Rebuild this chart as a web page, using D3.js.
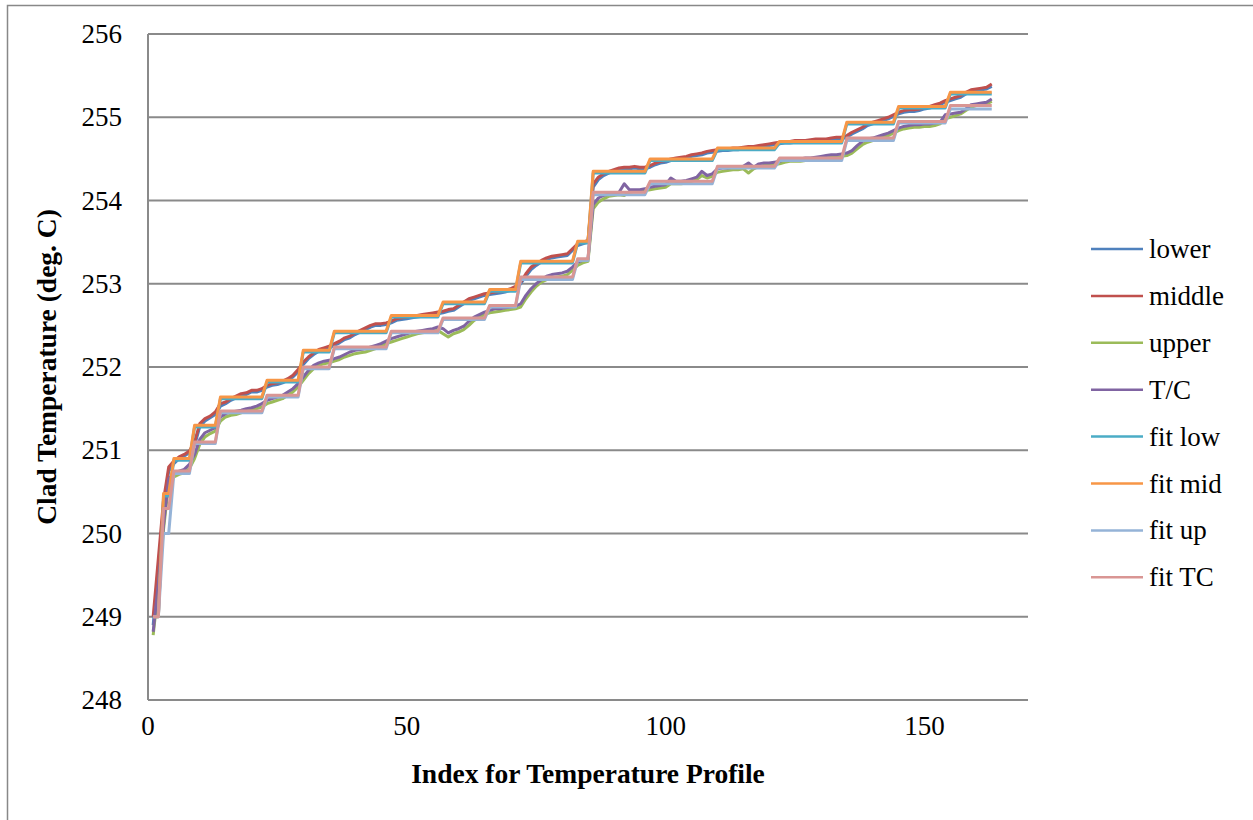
<!DOCTYPE html>
<html>
<head>
<meta charset="utf-8">
<script src="https://cdn.jsdelivr.net/npm/d3@7"></script>
<style>
  body { margin: 0; background: #fff; }
  svg { display: block; }
  text { font-family: "Liberation Serif", "Times New Roman", serif; fill: #000; }
</style>
</head>
<body>
<div id="chart"></div>
<script>
// Series, index 1..163
const lower = [
  248.9, 249.6, 250.3, 250.75, 250.84, 250.9, 250.93, 250.97, 251.06, 251.28,
  251.35, 251.39, 251.43, 251.53, 251.56, 251.6, 251.63, 251.66, 251.67, 251.7,
  251.7, 251.72, 251.76, 251.78, 251.79, 251.81, 251.84, 251.88, 251.94, 252.03,
  252.1, 252.15, 252.19, 252.21, 252.23, 252.26, 252.29, 252.33, 252.35, 252.39,
  252.42, 252.45, 252.48, 252.5, 252.5, 252.51, 252.53, 252.56, 252.57, 252.58,
  252.59, 252.6, 252.61, 252.62, 252.63, 252.64, 252.65, 252.67, 252.68, 252.72,
  252.76, 252.8, 252.82, 252.84, 252.86, 252.87, 252.88, 252.89, 252.9, 252.92,
  252.95, 253.0, 253.09, 253.17, 253.22, 253.26, 253.29, 253.31, 253.32, 253.33,
  253.34, 253.4, 253.46, 253.48, 253.5, 254.16, 254.25, 254.3, 254.33, 254.35,
  254.37, 254.38, 254.38, 254.39, 254.38, 254.38, 254.4, 254.43, 254.45, 254.46,
  254.48, 254.49, 254.5, 254.51, 254.53, 254.54, 254.55, 254.57, 254.58, 254.59,
  254.6, 254.6, 254.61, 254.61, 254.62, 254.63, 254.63, 254.64, 254.65, 254.66,
  254.67, 254.68, 254.69, 254.69, 254.7, 254.7, 254.7, 254.71, 254.72, 254.72,
  254.72, 254.73, 254.74, 254.74, 254.76, 254.8, 254.83, 254.86, 254.9, 254.92,
  254.94, 254.96, 254.98, 255.01, 255.04, 255.06, 255.07, 255.07, 255.08, 255.1,
  255.11, 255.13, 255.15, 255.18, 255.2, 255.22, 255.24, 255.28, 255.31, 255.32,
  255.33, 255.34, 255.37
];
const middle = [
  249.0, 249.7, 250.4, 250.8, 250.87, 250.92, 250.95, 250.99, 251.1, 251.32,
  251.38, 251.41, 251.46, 251.56, 251.58, 251.62, 251.65, 251.68, 251.69, 251.72,
  251.72, 251.74, 251.78, 251.8, 251.81, 251.83, 251.86, 251.9, 251.97, 252.06,
  252.12, 252.17, 252.21, 252.23, 252.25, 252.28, 252.31, 252.35, 252.37, 252.41,
  252.44, 252.47, 252.5, 252.52, 252.52, 252.53, 252.55, 252.58, 252.59, 252.6,
  252.61, 252.62, 252.63, 252.64, 252.65, 252.66, 252.67, 252.69, 252.7, 252.74,
  252.78, 252.82, 252.84, 252.86, 252.88, 252.89, 252.9, 252.91, 252.92, 252.94,
  252.97, 253.02, 253.12, 253.2, 253.24, 253.28, 253.31, 253.33, 253.34, 253.35,
  253.36, 253.42, 253.48, 253.5, 253.52, 254.2, 254.28, 254.32, 254.35, 254.37,
  254.39, 254.4, 254.4, 254.41, 254.4, 254.4, 254.42, 254.45, 254.47, 254.48,
  254.5, 254.51, 254.52, 254.53, 254.55, 254.56, 254.57, 254.59, 254.6, 254.61,
  254.62, 254.62, 254.63, 254.63, 254.64, 254.65, 254.65, 254.66, 254.67, 254.68,
  254.69, 254.7, 254.71, 254.71, 254.72, 254.72, 254.72, 254.73, 254.74, 254.74,
  254.74, 254.75, 254.76, 254.76, 254.78, 254.82, 254.85, 254.88, 254.92, 254.94,
  254.96, 254.98, 255.0, 255.03, 255.06, 255.08, 255.09, 255.09, 255.1, 255.12,
  255.13, 255.15, 255.17, 255.2, 255.22, 255.24, 255.26, 255.3, 255.33, 255.34,
  255.35, 255.36, 255.4
];
const upper = [
  248.78, 249.35, 250.05, 250.6, 250.68, 250.71, 250.73, 250.78, 250.9, 251.07,
  251.16, 251.2, 251.23, 251.35, 251.4, 251.42, 251.43, 251.45, 251.47, 251.48,
  251.5, 251.52, 251.56, 251.58, 251.6, 251.62, 251.66, 251.7, 251.76, 251.84,
  251.92, 251.98, 252.02, 252.04, 252.05, 252.07, 252.09, 252.12, 252.14, 252.16,
  252.17, 252.18, 252.2, 252.22, 252.25, 252.28, 252.3, 252.32, 252.34, 252.36,
  252.38, 252.4, 252.41, 252.42, 252.43, 252.44, 252.4, 252.36, 252.4, 252.42,
  252.45, 252.5, 252.56, 252.6, 252.63, 252.65, 252.66, 252.67, 252.68, 252.69,
  252.7, 252.72, 252.82, 252.9, 252.97, 253.02, 253.05, 253.07, 253.08, 253.09,
  253.11, 253.16, 253.22, 253.25, 253.27, 253.9, 253.98, 254.02, 254.05, 254.06,
  254.07, 254.06, 254.1, 254.11, 254.11, 254.12, 254.13, 254.14, 254.15, 254.16,
  254.2, 254.2, 254.2, 254.21, 254.23, 254.25, 254.3, 254.27, 254.29, 254.34,
  254.35, 254.36, 254.37, 254.37, 254.38, 254.33, 254.38, 254.41, 254.42, 254.42,
  254.43, 254.44, 254.46, 254.47, 254.47, 254.47, 254.48, 254.48, 254.49, 254.5,
  254.51, 254.52, 254.52, 254.53, 254.54, 254.57, 254.62, 254.67, 254.7, 254.72,
  254.74, 254.76, 254.78, 254.81, 254.84, 254.86, 254.87, 254.88, 254.88, 254.89,
  254.89, 254.9, 254.92, 254.98, 255.0, 255.02, 255.04, 255.08, 255.12, 255.14,
  255.15, 255.16, 255.19
];
const tc = [
  248.82, 249.4, 250.1, 250.66, 250.72, 250.75, 250.77, 250.83, 250.95, 251.13,
  251.21, 251.24, 251.27, 251.4, 251.44, 251.46, 251.47, 251.48, 251.5, 251.51,
  251.53, 251.56, 251.6, 251.62, 251.64, 251.66, 251.7, 251.74, 251.8, 251.88,
  251.96, 252.02, 252.05, 252.07, 252.08, 252.1, 252.12, 252.15, 252.18, 252.2,
  252.21, 252.22, 252.24, 252.26, 252.28, 252.31, 252.34, 252.36, 252.38, 252.4,
  252.42, 252.43, 252.44, 252.45, 252.46, 252.48, 252.46, 252.41, 252.44, 252.46,
  252.49, 252.55, 252.6, 252.63, 252.66, 252.68, 252.7, 252.7, 252.71, 252.72,
  252.73, 252.76, 252.86, 252.94, 253.0, 253.05, 253.09, 253.11, 253.12, 253.13,
  253.15, 253.2, 253.26, 253.28, 253.3, 253.95, 254.03, 254.06, 254.08, 254.09,
  254.1, 254.2, 254.13, 254.13, 254.13, 254.14, 254.16, 254.17, 254.18, 254.19,
  254.27, 254.23, 254.23, 254.24, 254.26, 254.28, 254.35, 254.3, 254.32, 254.38,
  254.39, 254.39, 254.4, 254.4, 254.41, 254.45, 254.4, 254.44, 254.45, 254.45,
  254.46, 254.47, 254.49, 254.5, 254.5, 254.5, 254.51, 254.51, 254.52, 254.53,
  254.54, 254.55, 254.55, 254.56, 254.57, 254.6, 254.66, 254.71, 254.74, 254.75,
  254.77, 254.79, 254.81, 254.84, 254.87, 254.89, 254.9, 254.91, 254.91, 254.92,
  254.92, 254.93, 254.94, 255.03, 255.04, 255.05, 255.06, 255.1, 255.15, 255.16,
  255.17, 255.18, 255.22
];
const fitLow = [
  249.0, 249.0,
  250.45, 250.45,
  250.88, 250.88, 250.88, 250.88,
  251.28, 251.28, 251.28, 251.28, 251.28,
  251.62, 251.62, 251.62, 251.62, 251.62, 251.62, 251.62, 251.62, 251.62,
  251.82, 251.82, 251.82, 251.82, 251.82, 251.82, 251.82,
  252.18, 252.18, 252.18, 252.18, 252.18, 252.18,
  252.41, 252.41, 252.41, 252.41, 252.41, 252.41, 252.41, 252.41, 252.41, 252.41, 252.41,
  252.6, 252.6, 252.6, 252.6, 252.6, 252.6, 252.6, 252.6, 252.6, 252.6,
  252.76, 252.76, 252.76, 252.76, 252.76, 252.76, 252.76, 252.76, 252.76,
  252.91, 252.91, 252.91, 252.91, 252.91, 252.91,
  253.25, 253.25, 253.25, 253.25, 253.25, 253.25, 253.25, 253.25, 253.25, 253.25, 253.25,
  253.49, 253.49, 253.49,
  254.33, 254.33, 254.33, 254.33, 254.33, 254.33, 254.33, 254.33, 254.33, 254.33, 254.33,
  254.48, 254.48, 254.48, 254.48, 254.48, 254.48, 254.48, 254.48, 254.48, 254.48, 254.48, 254.48, 254.48,
  254.61, 254.61, 254.61, 254.61, 254.61, 254.61, 254.61, 254.61, 254.61, 254.61, 254.61, 254.61,
  254.69, 254.69, 254.69, 254.69, 254.69, 254.69, 254.69, 254.69, 254.69, 254.69, 254.69, 254.69, 254.69,
  254.92, 254.92, 254.92, 254.92, 254.92, 254.92, 254.92, 254.92, 254.92, 254.92,
  255.11, 255.11, 255.11, 255.11, 255.11, 255.11, 255.11, 255.11, 255.11, 255.11,
  255.28, 255.28, 255.28, 255.28, 255.28, 255.28, 255.28, 255.28, 255.28
];
const fitMid = [
  249.0, 249.0,
  250.48, 250.48,
  250.9, 250.9, 250.9, 250.9,
  251.3, 251.3, 251.3, 251.3, 251.3,
  251.64, 251.64, 251.64, 251.64, 251.64, 251.64, 251.64, 251.64, 251.64,
  251.84, 251.84, 251.84, 251.84, 251.84, 251.84, 251.84,
  252.2, 252.2, 252.2, 252.2, 252.2, 252.2,
  252.43, 252.43, 252.43, 252.43, 252.43, 252.43, 252.43, 252.43, 252.43, 252.43, 252.43,
  252.62, 252.62, 252.62, 252.62, 252.62, 252.62, 252.62, 252.62, 252.62, 252.62,
  252.78, 252.78, 252.78, 252.78, 252.78, 252.78, 252.78, 252.78, 252.78,
  252.93, 252.93, 252.93, 252.93, 252.93, 252.93,
  253.27, 253.27, 253.27, 253.27, 253.27, 253.27, 253.27, 253.27, 253.27, 253.27, 253.27,
  253.51, 253.51, 253.51,
  254.35, 254.35, 254.35, 254.35, 254.35, 254.35, 254.35, 254.35, 254.35, 254.35, 254.35,
  254.5, 254.5, 254.5, 254.5, 254.5, 254.5, 254.5, 254.5, 254.5, 254.5, 254.5, 254.5, 254.5,
  254.63, 254.63, 254.63, 254.63, 254.63, 254.63, 254.63, 254.63, 254.63, 254.63, 254.63, 254.63,
  254.71, 254.71, 254.71, 254.71, 254.71, 254.71, 254.71, 254.71, 254.71, 254.71, 254.71, 254.71, 254.71,
  254.94, 254.94, 254.94, 254.94, 254.94, 254.94, 254.94, 254.94, 254.94, 254.94,
  255.13, 255.13, 255.13, 255.13, 255.13, 255.13, 255.13, 255.13, 255.13, 255.13,
  255.3, 255.3, 255.3, 255.3, 255.3, 255.3, 255.3, 255.3, 255.3
];
const fitUp = [
  249.0, 249.0,
  250.0, 250.0,
  250.72, 250.72, 250.72, 250.72,
  251.08, 251.08, 251.08, 251.08, 251.08,
  251.45, 251.45, 251.45, 251.45, 251.45, 251.45, 251.45, 251.45, 251.45,
  251.64, 251.64, 251.64, 251.64, 251.64, 251.64, 251.64,
  251.98, 251.98, 251.98, 251.98, 251.98, 251.98,
  252.22, 252.22, 252.22, 252.22, 252.22, 252.22, 252.22, 252.22, 252.22, 252.22, 252.22,
  252.41, 252.41, 252.41, 252.41, 252.41, 252.41, 252.41, 252.41, 252.41, 252.41,
  252.57, 252.57, 252.57, 252.57, 252.57, 252.57, 252.57, 252.57, 252.57,
  252.72, 252.72, 252.72, 252.72, 252.72, 252.72,
  253.05, 253.05, 253.05, 253.05, 253.05, 253.05, 253.05, 253.05, 253.05, 253.05, 253.05,
  253.28, 253.28, 253.28,
  254.07, 254.07, 254.07, 254.07, 254.07, 254.07, 254.07, 254.07, 254.07, 254.07, 254.07,
  254.2, 254.2, 254.2, 254.2, 254.2, 254.2, 254.2, 254.2, 254.2, 254.2, 254.2, 254.2, 254.2,
  254.39, 254.39, 254.39, 254.39, 254.39, 254.39, 254.39, 254.39, 254.39, 254.39, 254.39, 254.39,
  254.48, 254.48, 254.48, 254.48, 254.48, 254.48, 254.48, 254.48, 254.48, 254.48, 254.48, 254.48, 254.48,
  254.72, 254.72, 254.72, 254.72, 254.72, 254.72, 254.72, 254.72, 254.72, 254.72,
  254.93, 254.93, 254.93, 254.93, 254.93, 254.93, 254.93, 254.93, 254.93, 254.93,
  255.1, 255.1, 255.1, 255.1, 255.1, 255.1, 255.1, 255.1, 255.1
];
const fitTC = [
  249.0, 249.0,
  250.3, 250.3,
  250.75, 250.75, 250.75, 250.75,
  251.1, 251.1, 251.1, 251.1, 251.1,
  251.47, 251.47, 251.47, 251.47, 251.47, 251.47, 251.47, 251.47, 251.47,
  251.66, 251.66, 251.66, 251.66, 251.66, 251.66, 251.66,
  252.0, 252.0, 252.0, 252.0, 252.0, 252.0,
  252.24, 252.24, 252.24, 252.24, 252.24, 252.24, 252.24, 252.24, 252.24, 252.24, 252.24,
  252.43, 252.43, 252.43, 252.43, 252.43, 252.43, 252.43, 252.43, 252.43, 252.43,
  252.59, 252.59, 252.59, 252.59, 252.59, 252.59, 252.59, 252.59, 252.59,
  252.74, 252.74, 252.74, 252.74, 252.74, 252.74,
  253.08, 253.08, 253.08, 253.08, 253.08, 253.08, 253.08, 253.08, 253.08, 253.08, 253.08,
  253.3, 253.3, 253.3,
  254.1, 254.1, 254.1, 254.1, 254.1, 254.1, 254.1, 254.1, 254.1, 254.1, 254.1,
  254.23, 254.23, 254.23, 254.23, 254.23, 254.23, 254.23, 254.23, 254.23, 254.23, 254.23, 254.23, 254.23,
  254.41, 254.41, 254.41, 254.41, 254.41, 254.41, 254.41, 254.41, 254.41, 254.41, 254.41, 254.41,
  254.51, 254.51, 254.51, 254.51, 254.51, 254.51, 254.51, 254.51, 254.51, 254.51, 254.51, 254.51, 254.51,
  254.75, 254.75, 254.75, 254.75, 254.75, 254.75, 254.75, 254.75, 254.75, 254.75,
  254.95, 254.95, 254.95, 254.95, 254.95, 254.95, 254.95, 254.95, 254.95, 254.95,
  255.14, 255.14, 255.14, 255.14, 255.14, 255.14, 255.14, 255.14, 255.14
];

const seriesNames = ["lower", "middle", "upper", "T/C", "fit low", "fit mid", "fit up", "fit TC"];
const seriesValues = [lower, middle, upper, tc, fitLow, fitMid, fitUp, fitTC];
const seriesColors = ["#4F81BD", "#C0504D", "#9BBB59", "#8064A2", "#4BACC6", "#F79646", "#95B3D7", "#D99694"];
const yTicks = [248, 249, 250, 251, 252, 253, 254, 255, 256];
const xTicks = [0, 50, 100, 150];

const width = 1253, height = 820;
const plot = { left: 148, right: 1028, top: 34, bottom: 700 };

const svg = d3.select("#chart").append("svg")
  .attr("width", width)
  .attr("height", height);

// outer chart border
svg.append("rect")
  .attr("x", 7.5).attr("y", 5.5)
  .attr("width", width + 10).attr("height", height + 10)
  .attr("fill", "none")
  .attr("stroke", "#888")
  .attr("stroke-width", 1.5);

const x = d3.scaleLinear().domain([0, 170]).range([plot.left, plot.right]);
const y = d3.scaleLinear().domain([248, 256]).range([plot.bottom, plot.top]);

// gridlines
svg.append("g")
  .selectAll("line")
  .data(yTicks)
  .join("line")
  .attr("x1", plot.left).attr("x2", plot.right)
  .attr("y1", d => y(d)).attr("y2", d => y(d))
  .attr("stroke", "#8a8a8a")
  .attr("stroke-width", 2);

// y axis line
svg.append("line")
  .attr("x1", plot.left).attr("x2", plot.left)
  .attr("y1", plot.top).attr("y2", plot.bottom)
  .attr("stroke", "#8a8a8a")
  .attr("stroke-width", 2);

// tick labels
svg.append("g")
  .selectAll("text")
  .data(yTicks)
  .join("text")
  .attr("x", 122)
  .attr("y", d => y(d) + 9)
  .attr("text-anchor", "end")
  .attr("font-size", 27)
  .text(d => d);

svg.append("g")
  .selectAll("text")
  .data(xTicks)
  .join("text")
  .attr("x", d => x(d))
  .attr("y", 735)
  .attr("text-anchor", "middle")
  .attr("font-size", 27)
  .text(d => d);

// axis titles
svg.append("text")
  .attr("x", (plot.left + plot.right) / 2)
  .attr("y", 783)
  .attr("text-anchor", "middle")
  .attr("font-size", 27.5)
  .attr("font-weight", "bold")
  .text("Index for Temperature Profile");

svg.append("text")
  .attr("transform", `translate(56, ${(plot.top + plot.bottom) / 2}) rotate(-90)`)
  .attr("text-anchor", "middle")
  .attr("font-size", 27.5)
  .attr("font-weight", "bold")
  .text("Clad Temperature (deg. C)");

// series lines
const line = d3.line()
  .x((d, i) => x(i + 1))
  .y(d => y(d));

svg.append("g")
  .selectAll("path")
  .data(seriesValues)
  .join("path")
  .attr("d", d => line(d))
  .attr("fill", "none")
  .attr("stroke", (d, i) => seriesColors[i])
  .attr("stroke-width", 3)
  .attr("stroke-linejoin", "round");

// legend
const legend = svg.append("g");
const rows = legend.selectAll("g")
  .data(seriesNames)
  .join("g")
  .attr("transform", (d, i) => `translate(0, ${249 + i * 46.9})`);

rows.append("line")
  .attr("x1", 1091).attr("x2", 1143)
  .attr("stroke", (d, i) => seriesColors[i])
  .attr("stroke-width", 2.5);

rows.append("text")
  .attr("x", 1149)
  .attr("y", 9)
  .attr("font-size", 27)
  .text(d => d);
</script>
</body>
</html>
